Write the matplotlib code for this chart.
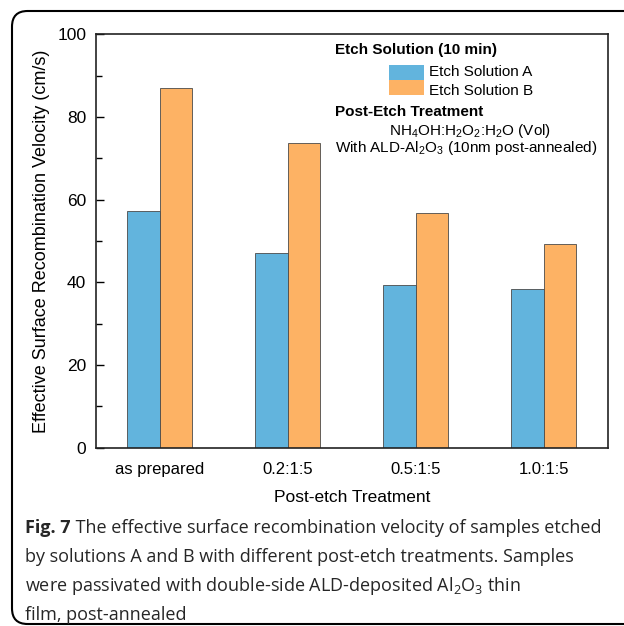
import numpy as np
import matplotlib
matplotlib.use('Agg')
import matplotlib.pyplot as plt
from matplotlib.patches import Rectangle, FancyBboxPatch

plt.rcParams['font.family'] = ['Liberation Sans', 'DejaVu Sans']
plt.rcParams['mathtext.fontset'] = 'custom'
plt.rcParams['mathtext.rm'] = 'Liberation Sans'
plt.rcParams['mathtext.default'] = 'regular'

# data
categories = ['as prepared', '0.2:1:5', '0.5:1:5', '1.0:1:5']
sol_a = [57.3, 47.0, 39.4, 38.4]
sol_b = [87.1, 73.7, 56.9, 49.2]

blue = '#62b4dd'
orange = '#fdb264'

fig = plt.figure(figsize=(6.24, 6.26), dpi=100)
ax = fig.add_axes([0.1538, 0.2848, 0.82, 0.6603])

x = np.arange(len(categories))
w = 0.254
ax.bar(x - w / 2, sol_a, w, color=blue, edgecolor='#4a4a4a', linewidth=0.6)
ax.bar(x + w / 2, sol_b, w, color=orange, edgecolor='#4a4a4a', linewidth=0.6)

ax.set_xlim(-0.5, 3.5)
ax.set_ylim(0, 100)
ax.set_xticks(x)
ax.set_xticklabels(categories, fontsize=12)
ax.set_yticks(np.arange(0, 101, 20))
ax.set_yticks(np.arange(10, 100, 20), minor=True)
ax.tick_params(axis='y', which='major', direction='in', length=6, width=1, labelsize=12.5, pad=7)
ax.tick_params(axis='y', which='minor', direction='in', length=4, width=1)
ax.tick_params(axis='x', length=0, pad=10)
for s in ax.spines.values():
    s.set_linewidth(1.2)
    s.set_color('#222222')

ax.set_xlabel('Post-etch Treatment', fontsize=12.5, labelpad=10)
ax.set_ylabel('Effective Surface Recombination Velocity (cm/s)', fontsize=13, labelpad=5)

# hand-made legend block
ax.text(0.467, 0.9625, 'Etch Solution (10 min)', transform=ax.transAxes,
        fontsize=11, fontweight='bold', va='center')
ax.add_patch(Rectangle((0.573, 0.8906), 0.0678, 0.0363, transform=ax.transAxes,
                       facecolor=blue, edgecolor='none'))
ax.add_patch(Rectangle((0.573, 0.8529), 0.0678, 0.0363, transform=ax.transAxes,
                       facecolor=orange, edgecolor='none'))
ax.text(0.6514, 0.9085, 'Etch Solution A', transform=ax.transAxes, fontsize=11, va='center')
ax.text(0.6514, 0.8633, 'Etch Solution B', transform=ax.transAxes, fontsize=11, va='center')
ax.text(0.467, 0.8117, 'Post-Etch Treatment', transform=ax.transAxes,
        fontsize=11, fontweight='bold', va='center')
ax.text(0.573, 0.767, 'NH$_4$OH:H$_2$O$_2$:H$_2$O (Vol)', transform=ax.transAxes,
        fontsize=11, va='center')
ax.text(0.467, 0.7246, 'With ALD-Al$_2$O$_3$ (10nm post-annealed)', transform=ax.transAxes,
        fontsize=11, va='center')

# rounded frame around figure + caption
frame = FancyBboxPatch((12 / 624, 2 / 626), 1.2, 613 / 626,
                       boxstyle='round,pad=0,rounding_size=0.025',
                       transform=fig.transFigure, facecolor='none',
                       edgecolor='black', linewidth=1.5, clip_on=False)
fig.patches.append(frame)

cap_font = ['Open Sans', 'DejaVu Sans']
cap_size = 13
cap_color = '#262626'
t1 = fig.text(25 / 624, 1 - 528 / 626, 'Fig. 7', fontsize=cap_size, fontweight='bold',
              family=cap_font, color=cap_color, va='center')
ax.annotate(' The effective surface recombination velocity of samples etched',
            xy=(1, 0.5), xycoords=t1, va='center', fontsize=cap_size,
            family=cap_font, color=cap_color, annotation_clip=False)
caption_lines = [
    'by solutions A and B with different post-etch treatments. Samples',
    'were passivated with double-side ALD-deposited Al$_2$O$_3$ thin',
    'film, post-annealed',
]
for i, line in enumerate(caption_lines):
    fig.text(25 / 624, 1 - (557 + 29 * i) / 626, line, fontsize=cap_size,
             family=cap_font, color=cap_color, va='center')

fig.savefig('out.png', dpi=100)
